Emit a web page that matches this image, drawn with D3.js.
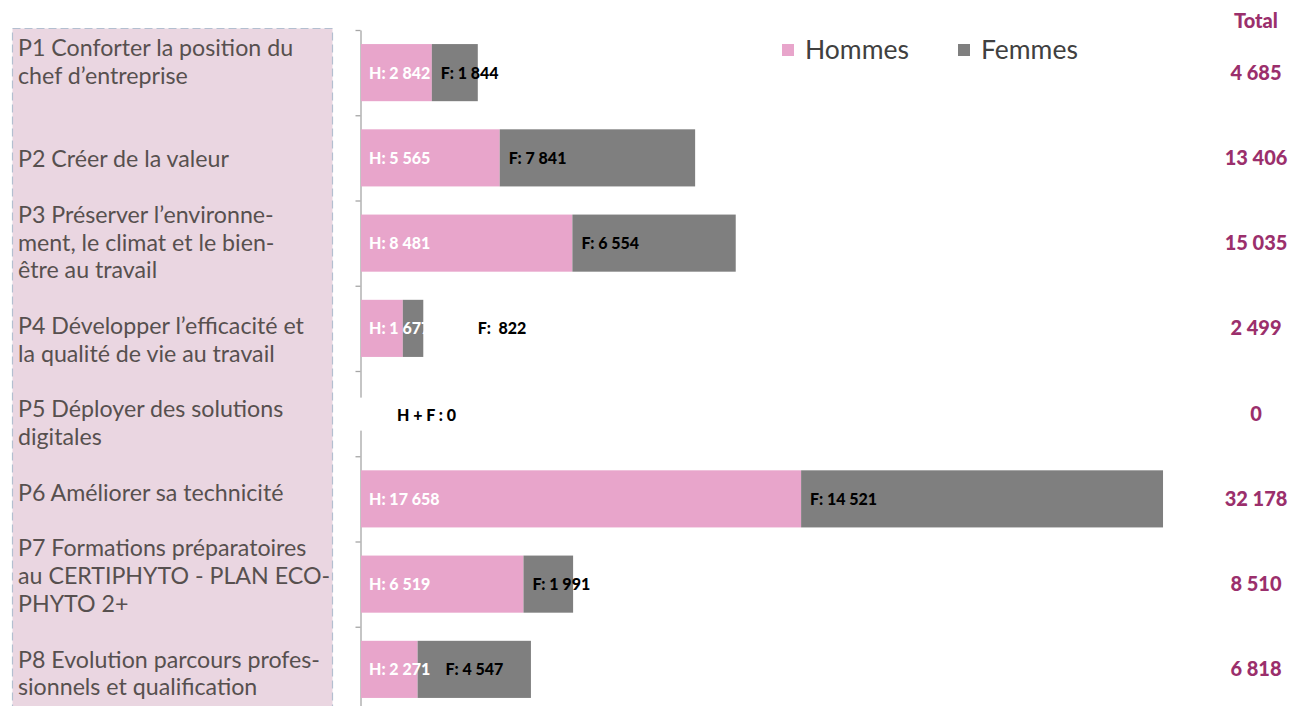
<!DOCTYPE html>
<html><head><meta charset="utf-8">
<script src="https://cdn.jsdelivr.net/npm/d3@7"></script>
<style>
html,body{margin:0;padding:0;background:#fff;}
svg{display:block;}
</style></head>
<body>
<svg id="chart" width="1291" height="706"></svg>
<script>
// ---- data ----
const categories = ["P1","P2","P3","P4","P5","P6","P7","P8"];
const categoryLabels = [
  ["P1 Conforter la position du","chef d\u2019entreprise"],
  ["P2 Créer de la valeur"],
  ["P3 Préserver l\u2019environne-","ment, le climat et le bien-","être au travail"],
  ["P4 Développer l\u2019efficacité et","la qualité de vie au travail"],
  ["P5 Déployer des solutions","digitales"],
  ["P6 Améliorer sa technicité"],
  ["P7 Formations préparatoires","au CERTIPHYTO - PLAN ECO-","PHYTO 2+"],
  ["P8 Evolution parcours profes-","sionnels et qualification"]
];
const hommes = [2842, 5565, 8481, 1677, 0, 17658, 6519, 2271];
const femmes = [1844, 7841, 6554, 822, 0, 14521, 1991, 4547];
const totals = [4685, 13406, 15035, 2499, 0, 32178, 8510, 6818];
const seriesNames = ["Hommes","Femmes"];
const totalTitle = "Total";

// ---- layout / style ----
const colors = {Hommes:"#e8a5cb", Femmes:"#7f7f7f"};
const fmt = v => d3.format(",")(v).replace(/,/g, " ");
const fNudge = {P4: 66, P8: 19}; // manual label placement in the original
const blankAfter = {P1: 2}; // blank lines in the left text box (default 1)

const svg = d3.select("#chart");
const W = 1291, H = 706;
svg.append("rect").attr("width",W).attr("height",H).attr("fill","#fff");

const x = d3.scaleLinear().domain([0, d3.max(totals)]).range([361, 1163]);
const y = d3.scaleBand().domain(categories).range([30, 712]).paddingInner(0.33).paddingOuter(0.165);

// left text panel
svg.append("rect").attr("x",12.5).attr("y",28.5).attr("width",320).attr("height",700)
  .attr("fill","#ead6e1").attr("stroke","#b3bfd0").attr("stroke-width",1.2)
  .attr("stroke-dasharray","8,4");

const lineH = 27.8;
let li = 0;
const labelG = svg.append("g").attr("font-family","Lato, 'Open Sans', sans-serif")
  .attr("font-size",23.2).attr("fill","#57504f");
categories.forEach((c,i) => {
  categoryLabels[i].forEach(t => {
    labelG.append("text").attr("x",18).attr("y",56 + li*lineH).text(t);
    li++;
  });
  li += (blankAfter[c] !== undefined ? blankAfter[c] : 1);
});

// axis
const yb = d3.scaleLinear().domain([0, categories.length]).range([30, 712]);
const axisG = svg.append("g").attr("transform","translate(360.5,0)")
  .call(d3.axisLeft(yb).tickValues(d3.range(0, categories.length+1)).tickFormat("").tickSize(5).tickSizeOuter(0));
axisG.selectAll("path,line").attr("stroke","#a6a6a6").attr("stroke-width",1.3);

// bars
const rows = categories.map((c,i)=>({c, h:hommes[i], f:femmes[i], t:totals[i]}));
const barG = svg.append("g");
barG.selectAll("rect.h").data(rows).join("rect").attr("class","h")
  .attr("x", x(0)).attr("y", d=>y(d.c)).attr("height", y.bandwidth())
  .attr("width", d=>x(d.h)-x(0)).attr("fill", colors.Hommes);
barG.selectAll("rect.f").data(rows).join("rect").attr("class","f")
  .attr("x", d=>x(d.h)).attr("y", d=>y(d.c)).attr("height", y.bandwidth())
  .attr("width", d=>x(d.h+d.f)-x(d.h)).attr("fill", colors.Femmes);

// bar labels
const lblG = svg.append("g").attr("font-family","Lato, sans-serif").attr("font-weight",900).attr("font-size",16);
rows.filter(d=>d.t>0).forEach(d=>{
  const cy = y(d.c)+y.bandwidth()/2 + 6;
  lblG.append("text").attr("x", x(0)+8).attr("y", cy).attr("fill","#fff").text("H: "+fmt(d.h));
});
rows.filter(d=>d.t>0).forEach(d=>{
  const cy = y(d.c)+y.bandwidth()/2 + 6;
  lblG.append("text").attr("x", x(d.h)+9+(fNudge[d.c]||0)).attr("y", cy).attr("fill","#000")
    .attr("xml:space","preserve").style("white-space","pre")
    .text(d.c==="P4" ? "F:  "+fmt(d.f) : "F: "+fmt(d.f));
});
rows.filter(d=>d.t===0).forEach(d=>{
  const cy = y(d.c)+y.bandwidth()/2;
  lblG.append("rect").attr("x",352).attr("y",cy-16).attr("width",118).attr("height",33).attr("fill","#fff");
  lblG.append("text").attr("x", x(0)+36).attr("y", cy+7).attr("fill","#000").text("H + F : 0");
});

// totals
const totG = svg.append("g").attr("font-family","Lato, sans-serif").attr("font-weight",900)
  .attr("font-size",20).attr("fill","#9b2f6c").attr("text-anchor","middle");
totG.append("text").attr("x",1256).attr("y",28).text(totalTitle);
rows.forEach(d=>{
  totG.append("text").attr("x",1256).attr("y", y(d.c)+y.bandwidth()/2+7).text(fmt(d.t));
});

// legend
const leg = svg.append("g").attr("font-family","Lato, sans-serif").attr("font-size",26.5).attr("fill","#404040");
const legX = [782, 958];
seriesNames.forEach((s,i)=>{
  leg.append("rect").attr("x",legX[i]).attr("y",44).attr("width",12).attr("height",12).attr("fill",colors[s]);
  leg.append("text").attr("x",legX[i]+23).attr("y",59).text(s);
});
</script>
</body></html>
